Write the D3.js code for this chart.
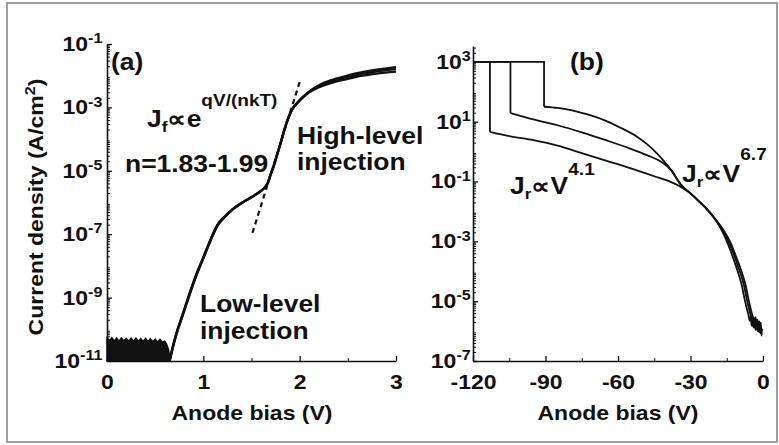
<!DOCTYPE html>
<html>
<head>
<meta charset="utf-8">
<script src="https://cdn.jsdelivr.net/npm/d3@7"></script>
<style>
  body { margin: 0; background: #fff; }
  text { font-family: "Liberation Sans", Arial, sans-serif; font-weight: bold; fill: #111; }
</style>
</head>
<body>
<svg id="chart" width="779" height="445"></svg>
<script>
// ---------- Panel (a): forward J-V, three devices ----------
const fwdBias = [0.65, 0.68, 0.72, 0.78, 0.85, 0.92, 1.0, 1.08, 1.15, 1.22, 1.3, 1.38, 1.45, 1.52,
  1.58, 1.63, 1.67, 1.70, 1.73, 1.76, 1.80, 1.84, 1.88, 1.92, 1.97, 2.03, 2.1, 2.2, 2.35, 2.5, 2.65, 2.8, 3.0];
const fwdJ1 = [1.0e-11, 2.5e-11, 7.1e-11, 2.5e-10, 1.1e-9, 4.5e-9, 1.8e-8, 7.1e-8, 2.0e-7, 3.5e-7, 6.0e-7,
  8.9e-7, 1.2e-6, 1.6e-6, 2.1e-6, 2.8e-6, 4.2e-6, 7.9e-6, 1.4e-5, 2.8e-5, 7.1e-5, 1.9e-4, 4.5e-4, 8.5e-4,
  1.35e-3, 2.1e-3, 3.2e-3, 5.0e-3, 7.6e-3, 1.02e-2, 1.29e-2, 1.55e-2, 1.86e-2];
const fwdJ2 = [1.0e-11, 2.6e-11, 7.6e-11, 2.7e-10, 1.2e-9, 4.8e-9, 1.9e-8, 7.5e-8, 2.1e-7, 3.6e-7, 6.1e-7,
  9.0e-7, 1.2e-6, 1.6e-6, 2.1e-6, 2.8e-6, 4.1e-6, 7.6e-6, 1.35e-5, 2.7e-5, 6.9e-5, 1.85e-4, 4.4e-4, 8.3e-4,
  1.32e-3, 2.05e-3, 3.1e-3, 4.7e-3, 6.9e-3, 9.1e-3, 1.15e-2, 1.38e-2, 1.62e-2];
const fwdJ3 = [1.0e-11, 2.4e-11, 6.8e-11, 2.4e-10, 1.05e-9, 4.3e-9, 1.7e-8, 6.8e-8, 1.9e-7, 3.4e-7, 5.9e-7,
  8.8e-7, 1.2e-6, 1.6e-6, 2.1e-6, 2.8e-6, 4.2e-6, 8.1e-6, 1.45e-5, 2.9e-5, 7.3e-5, 1.95e-4, 4.5e-4, 8.4e-4,
  1.3e-3, 2.0e-3, 3.0e-3, 4.3e-3, 6.2e-3, 7.9e-3, 1.0e-2, 1.17e-2, 1.35e-2];

// measurement floor below turn-on
const floorBias = [0, 0.025, 0.05, 0.075, 0.1, 0.125, 0.15, 0.175, 0.2, 0.225, 0.25, 0.275, 0.3, 0.325,
  0.35, 0.375, 0.4, 0.425, 0.45, 0.475, 0.5, 0.525, 0.55, 0.575, 0.6, 0.62, 0.64, 0.655];
const floorJ = [5.3e-11, 4.3e-11, 5.4e-11, 4.3e-11, 5.3e-11, 4.2e-11, 5.3e-11, 4.3e-11, 5.2e-11, 4.2e-11,
  5.2e-11, 4.2e-11, 5.2e-11, 4.2e-11, 5.1e-11, 4.1e-11, 5.1e-11, 4.1e-11, 5.0e-11, 4.1e-11, 4.9e-11,
  4.0e-11, 4.8e-11, 3.9e-11, 4.2e-11, 3.3e-11, 2.2e-11, 1.0e-11];

// ideality fit guide, J ~ exp(qV/nkT)
const fitBias = [1.51, 2.0];
const fitJ = [1.1e-7, 6.3e-3];

// ---------- Panel (b): reverse J-V up to breakdown ----------
const revBreakdown = [-113, -104.5, -90.6];
const revCompliance = 1e3;
const revBiasA = [-113, -105, -95, -85, -75, -65, -55, -45, -38, -34,
  -30, -27, -24, -21, -18.3, -16.5, -14.7, -12.8, -11.3, -9.9, -8.7, -7.7, -6.7, -5.9,
  -5.5, -5.1, -4.7, -4.3, -3.9, -3.5, -3.1, -2.7, -2.3, -1.9, -1.5, -1.1, -0.8];
const revJA = [4.6, 3.3, 2.4, 1.58, 0.89, 0.5, 0.28, 0.15, 0.095, 0.066,
  0.04, 0.024, 0.0138, 7.4e-3, 3.5e-3, 1.9e-3, 8.9e-4, 3.5e-4, 1.6e-4, 7.1e-5, 3.2e-5, 1.26e-5, 5.6e-6, 3.2e-6,
  2.2e-6, 3.0e-6, 1.5e-6, 2.6e-6, 1.3e-6, 2.2e-6, 1.1e-6, 1.9e-6, 1.0e-6, 1.7e-6, 9e-7, 1.5e-6, 8e-7];
const revBiasB = [-104.5, -95, -85, -75, -65, -55, -48, -42, -38, -34,
  -30, -27, -24, -21, -18, -16, -14, -12, -10.5, -9, -7.8, -6.8, -5.8, -5.0,
  -4.6, -4.2, -3.8, -3.4, -3.0, -2.6, -2.2, -1.8, -1.4, -1.0, -0.7];
const revJB = [19.5, 12, 7.6, 4.4, 2.4, 1.26, 0.76, 0.45, 0.24, 0.079,
  0.04, 0.024, 0.0138, 7.4e-3, 3.5e-3, 1.9e-3, 8.9e-4, 3.5e-4, 1.6e-4, 7.1e-5, 3.2e-5, 1.26e-5, 5.6e-6, 3.2e-6,
  2.4e-6, 1.5e-6, 2.8e-6, 1.4e-6, 2.3e-6, 1.2e-6, 2.0e-6, 1.0e-6, 1.8e-6, 8.5e-7, 1.3e-6];
const revBiasC = [-90.6, -85, -80, -73, -66, -59, -52, -48, -44, -41, -38, -34,
  -30, -27, -24, -21, -17.8, -15.6, -13.4, -11.4, -9.8, -8.3, -7.1, -6.1, -5.1, -4.3,
  -3.9, -3.5, -3.1, -2.7, -2.3, -1.9, -1.5, -1.2, -0.9, -0.6, -0.4];
const revJC = [31.6, 28.8, 25, 17.8, 11.5, 6.3, 3.1, 1.78, 0.89, 0.48, 0.24, 0.079,
  0.04, 0.024, 0.0138, 7.4e-3, 3.5e-3, 1.9e-3, 8.9e-4, 3.5e-4, 1.6e-4, 7.1e-5, 3.2e-5, 1.26e-5, 5.6e-6, 3.2e-6,
  2.6e-6, 1.6e-6, 2.9e-6, 1.5e-6, 2.4e-6, 1.3e-6, 2.1e-6, 1.0e-6, 1.9e-6, 7e-7, 1.2e-6];

// tick labels
const fwdXTicks = [0, 1, 2, 3];
const fwdXMinor = [0.5, 1.5, 2.5];
const fwdYExp = [-1, -3, -5, -7, -9, -11];
const revXTicks = [-120, -90, -60, -30, 0];
const revXMinor = [-105, -75, -45, -15];
const revYExp = [3, 1, -1, -3, -5, -7];

// ---------- drawing ----------
const SX = 1.15;           // horizontal stretch of the bold lettering
const svg = d3.select("#chart");
const INK = "#111";

svg.append("rect").attr("x", 7).attr("y", 3).attr("width", 770).attr("height", 439)
  .attr("fill", "none").attr("stroke", "#888").attr("stroke-width", 1.6);

function richText(parent, x, y, size, parts, anchor) {
  const t = parent.append("text")
    .attr("transform", `translate(${x},${y}) scale(${SX},1)`)
    .attr("font-size", size)
    .attr("text-anchor", anchor || "start");
  let off = 0;
  parts.forEach(([s, kind, shift]) => {
    const target = kind === "sup" ? (shift || -0.42 * size) : kind === "sub" ? (shift || 0.22 * size) : 0;
    const span = t.append("tspan").text(s).attr("dy", target - off);
    if (kind === "sup") span.attr("font-size", size * 0.72);
    if (kind === "sub") span.attr("font-size", size * 0.65);
    off = target;
  });
  return t;
}

function minorLogs(lo, hi) {
  const out = [];
  for (let e = Math.floor(Math.log10(lo)); e <= Math.ceil(Math.log10(hi)); e++) {
    for (let m = 2; m <= 9; m++) {
      const v = m * Math.pow(10, e);
      if (v > lo && v < hi) out.push(v);
    }
  }
  return out;
}

// plain hyphen for negative numbers, no trailing decimals
const tickFmt = d => String(d);

function drawAxes(g, x, y, xTicks, xMinor, yExp, yPad) {
  const [x0] = x.range();
  const [y0] = y.range();
  // minor ticks
  g.append("g").attr("transform", `translate(0,${y0})`)
    .call(d3.axisBottom(x).tickValues(xMinor).tickSize(-3).tickSizeOuter(0).tickFormat(""))
    .call(s => s.select(".domain").remove());
  g.append("g").attr("transform", `translate(${x0},0)`)
    .call(d3.axisLeft(y).tickValues(minorLogs(...y.domain())).tickSize(-3).tickSizeOuter(0).tickFormat(""))
    .call(s => s.select(".domain").remove());
  // major ticks
  const xa = g.append("g").attr("transform", `translate(0,${y0})`)
    .call(d3.axisBottom(x).tickValues(xTicks).tickSize(-5).tickSizeOuter(0).tickPadding(14).tickFormat(tickFmt));
  xa.selectAll("text").attr("font-size", 20).attr("fill", INK)
    .attr("transform", `scale(${SX},1)`).attr("x", 0);
  const ya = g.append("g").attr("transform", `translate(${x0},0)`)
    .call(d3.axisLeft(y).tickValues(yExp.map(e => Math.pow(10, e))).tickSize(-5).tickSizeOuter(0)
      .tickPadding(yPad).tickFormat(""));
  ya.selectAll(".tick text").each(function (d) {
    const t = d3.select(this).attr("font-size", 20).attr("fill", INK)
      .attr("transform", `scale(${SX},1)`);
    t.append("tspan").text("10");
    t.append("tspan").text(String(Math.round(Math.log10(d))))
      .attr("font-size", 14).attr("dy", "-0.55em");
  });
  [xa, ya].forEach(a => {
    a.selectAll("line").attr("stroke", INK).attr("stroke-width", 1.3);
    a.select(".domain").attr("stroke", INK).attr("stroke-width", 1.6);
  });
  g.selectAll("line").attr("stroke", INK);
}

// --- panel (a)
const ga = svg.append("g");
const xa = d3.scaleLinear().domain([0, 3]).range([107, 396]);
const ya = d3.scaleLog().domain([1e-11, 1e-1]).range([361, 44]);

ga.append("path")
  .datum(floorBias.map((v, i) => [v, floorJ[i]]))
  .attr("d", d3.area().x(d => xa(d[0])).y0(ya(1e-11)).y1(d => ya(d[1])).curve(d3.curveLinear))
  .attr("fill", INK).attr("stroke", INK).attr("stroke-width", 1.5);

const fwdLine = d3.line().x(d => xa(d[0])).y(d => ya(d[1])).curve(d3.curveMonotoneX);
[fwdJ1, fwdJ2, fwdJ3].forEach(J => {
  ga.append("path").datum(fwdBias.map((v, i) => [v, J[i]]))
    .attr("d", fwdLine).attr("fill", "none").attr("stroke", INK).attr("stroke-width", 2.3);
});
ga.append("path").datum(fitBias.map((v, i) => [v, fitJ[i]]))
  .attr("d", d3.line().x(d => xa(d[0])).y(d => ya(d[1])))
  .attr("fill", "none").attr("stroke", INK).attr("stroke-width", 2.2).attr("stroke-dasharray", "5,4");

drawAxes(ga, xa, ya, fwdXTicks, fwdXMinor, fwdYExp, 4);

richText(ga, 111, 70, 23, [["(a)"]]);
richText(ga, 147, 127, 23, [["J"], ["f", "sub", 5], ["∝e"], ["qV/(nkT)", "sup", -21]]);
richText(ga, 125, 172, 23, [["n=1.83-1.99"]]);
richText(ga, 297, 144, 23, [["High-level"]]);
richText(ga, 297, 170, 23, [["injection"]]);
richText(ga, 200, 312, 23, [["Low-level"]]);
richText(ga, 200, 339, 23, [["injection"]]);
richText(ga, 252, 420, 20, [["Anode bias (V)"]], "middle");
svg.append("text")
  .attr("transform", `translate(43,207) rotate(-90) scale(${SX},1)`)
  .attr("font-size", 20).attr("text-anchor", "middle")
  .call(t => {
    t.append("tspan").text("Current density (A/cm");
    t.append("tspan").text("2").attr("font-size", 14).attr("dy", -8);
    t.append("tspan").text(")").attr("dy", 8);
  });

// --- panel (b)
const gb = svg.append("g");
const xb = d3.scaleLinear().domain([-120, 0]).range([473, 763]);
const yb = d3.scaleLog().domain([1e-7, Math.pow(10, 3.53)]).range([361, 46]);

const revSeries = [[revBiasA, revJA], [revBiasB, revJB], [revBiasC, revJC]];
const stepLine = d3.line().x(d => xb(d[0])).y(d => yb(d[1]));
const sweepLine = d3.line().x(d => xb(d[0])).y(d => yb(d[1])).curve(d3.curveMonotoneX);
revSeries.forEach(([B, J], k) => {
  const vb = revBreakdown[k];
  gb.append("path")
    .datum([[-120, revCompliance], [vb, revCompliance], [vb, J[0]]])
    .attr("d", stepLine).attr("fill", "none").attr("stroke", INK).attr("stroke-width", 1.8);
  gb.append("path")
    .datum(B.map((v, i) => [v, J[i]]))
    .attr("d", sweepLine).attr("fill", "none").attr("stroke", INK).attr("stroke-width", 1.8);
});

drawAxes(gb, xb, yb, revXTicks, revXMinor, revYExp, 2);

richText(gb, 570, 70, 23, [["(b)"]]);
richText(gb, 510, 194, 23, [["J"], ["r", "sub", 5], ["∝V"], ["4.1", "sup", -19]]);
richText(gb, 682, 182, 23, [["J"], ["r", "sub", 5], ["∝V"], ["6.7", "sup", -22]]);
richText(gb, 618, 420, 20, [["Anode bias (V)"]], "middle");
</script>
</body>
</html>
